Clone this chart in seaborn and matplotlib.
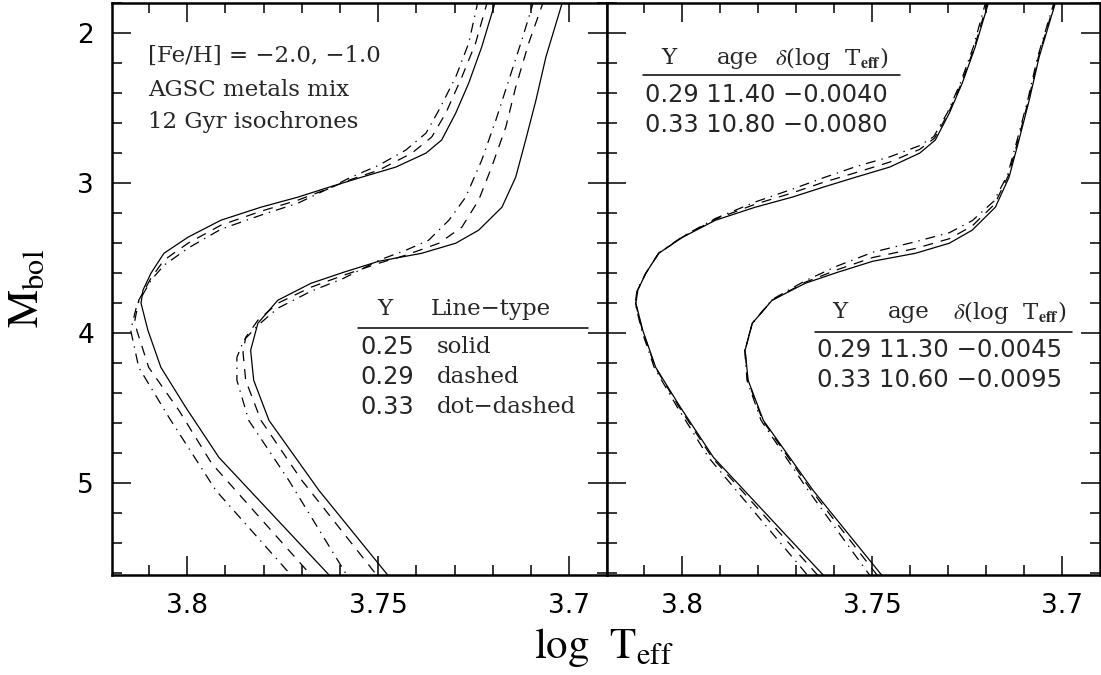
import numpy as np
import pandas as pd
import matplotlib
matplotlib.use("Agg")
import matplotlib.pyplot as plt
from matplotlib.ticker import MultipleLocator
import seaborn as sns

# ---------------------------------------------------------------
# Isochrone tracks (log Teff, M_bol), ordered from the giant branch
# down to the lower main sequence.
# ---------------------------------------------------------------
# [Fe/H] = -2.0, 12 Gyr
m2_y25_teff = [3.7192, 3.7229, 3.7263, 3.7297, 3.7334, 3.7375, 3.7454, 3.7543, 3.7629, 3.7710, 3.7807,
               3.7912, 3.7998, 3.8061, 3.8095, 3.8116, 3.8121, 3.8103, 3.8069, 3.8004, 3.7917, 3.7625]
m2_y25_mbol = [1.78, 2.093, 2.333, 2.533, 2.713, 2.80, 2.893, 2.96, 3.027, 3.093, 3.16,
               3.247, 3.36, 3.467, 3.60, 3.713, 3.80, 3.98, 4.227, 4.493, 4.827, 5.62]
m2_y29_teff = [3.7213, 3.7245, 3.7281, 3.7323, 3.7360, 3.7412, 3.7498, 3.7577, 3.7629, 3.7710, 3.7807,
               3.7912, 3.7998, 3.8061, 3.8095, 3.8127, 3.8137, 3.8132, 3.8101, 3.8022, 3.7936, 3.7673]
m2_y29_mbol = [1.78, 2.067, 2.293, 2.533, 2.693, 2.80, 2.913, 2.98, 3.035, 3.113, 3.187,
               3.28, 3.40, 3.513, 3.633, 3.78, 3.913, 3.98, 4.227, 4.513, 4.867, 5.62]
m2_y33_teff = [3.7238, 3.7263, 3.7297, 3.7341, 3.7375, 3.7428, 3.7498, 3.7577, 3.7629, 3.7710, 3.7807,
               3.7912, 3.7998, 3.8061, 3.8095, 3.8132, 3.8148, 3.8127, 3.8048, 3.7925, 3.7725]
m2_y33_mbol = [1.78, 2.067, 2.293, 2.513, 2.667, 2.78, 2.88, 2.967, 3.035, 3.133, 3.213,
               3.307, 3.433, 3.547, 3.647, 3.813, 3.98, 4.227, 4.56, 5.047, 5.62]

# [Fe/H] = -1.0, 12 Gyr
m1_y25_teff = [3.7016, 3.7061, 3.7087, 3.7114, 3.7140, 3.7176, 3.7237, 3.7297, 3.7386, 3.7498,
               3.7590, 3.7676, 3.7763, 3.7815, 3.7834, 3.7826, 3.7786, 3.7655, 3.7472]
m1_y25_mbol = [1.78, 2.16, 2.447, 2.713, 2.96, 3.16, 3.313, 3.40, 3.467, 3.52,
               3.593, 3.667, 3.78, 3.933, 4.113, 4.313, 4.58, 5.047, 5.62]
m1_y29_teff = [3.7066, 3.7106, 3.7140, 3.7166, 3.7203, 3.7237, 3.7281, 3.7341, 3.7428, 3.7498,
               3.7590, 3.7676, 3.7763, 3.7815, 3.7847, 3.7854, 3.7847, 3.7807, 3.7700, 3.7501]
m1_y29_mbol = [1.78, 2.067, 2.36, 2.627, 2.893, 3.113, 3.293, 3.40, 3.48, 3.533,
               3.613, 3.693, 3.80, 3.913, 4.027, 4.127, 4.313, 4.58, 4.98, 5.62]
m1_y33_teff = [3.7092, 3.7124, 3.7158, 3.7192, 3.7229, 3.7271, 3.7315, 3.7368, 3.7428, 3.7498,
               3.7590, 3.7676, 3.7763, 3.7815, 3.7852, 3.7870, 3.7870, 3.7839, 3.7734, 3.7580]
m1_y33_mbol = [1.78, 2.047, 2.313, 2.58, 2.847, 3.093, 3.247, 3.38, 3.447, 3.513,
               3.633, 3.72, 3.833, 3.947, 4.047, 4.16, 4.313, 4.58, 4.98, 5.62]

# Helium-rich isochrones at matched turnoff luminosity, shifted in log Teff
m2_y29_adj_teff = [3.7195, 3.7231, 3.7265, 3.7299, 3.7336, 3.7375, 3.7454, 3.7543, 3.7629, 3.7710, 3.7807,
                   3.7912, 3.7998, 3.8061, 3.8095, 3.8117, 3.8122, 3.8104, 3.8070, 3.8007, 3.7921, 3.7640]
m2_y29_adj_mbol = [1.78, 2.093, 2.333, 2.53, 2.70, 2.775, 2.86, 2.93, 2.995, 3.065, 3.14,
                   3.24, 3.358, 3.467, 3.60, 3.713, 3.80, 3.98, 4.227, 4.493, 4.827, 5.62]
m2_y33_adj_teff = [3.7200, 3.7234, 3.7268, 3.7302, 3.7338, 3.7375, 3.7454, 3.7543, 3.7629, 3.7710, 3.7807,
                   3.7912, 3.7998, 3.8061, 3.8095, 3.8118, 3.8123, 3.8106, 3.8073, 3.8012, 3.7930, 3.7667]
m2_y33_adj_mbol = [1.78, 2.093, 2.333, 2.53, 2.69, 2.75, 2.825, 2.89, 2.965, 3.04, 3.125,
                   3.235, 3.355, 3.465, 3.60, 3.713, 3.80, 3.98, 4.227, 4.493, 4.827, 5.62]
m1_y29_adj_teff = [3.7018, 3.7063, 3.7089, 3.7116, 3.7142, 3.7178, 3.7237, 3.7297, 3.7386, 3.7498,
                   3.7590, 3.7676, 3.7763, 3.7815, 3.7834, 3.7827, 3.7788, 3.7660, 3.7484]
m1_y29_adj_mbol = [1.78, 2.16, 2.447, 2.71, 2.95, 3.14, 3.285, 3.37, 3.435, 3.495,
                   3.575, 3.66, 3.78, 3.933, 4.113, 4.313, 4.58, 5.047, 5.62]
m1_y33_adj_teff = [3.7020, 3.7065, 3.7091, 3.7118, 3.7144, 3.7180, 3.7237, 3.7297, 3.7386, 3.7498,
                   3.7590, 3.7676, 3.7763, 3.7815, 3.7835, 3.7829, 3.7792, 3.7668, 3.7504]
m1_y33_adj_mbol = [1.78, 2.16, 2.447, 2.705, 2.945, 3.12, 3.25, 3.33, 3.39, 3.46,
                   3.55, 3.65, 3.775, 3.933, 4.113, 4.313, 4.58, 5.047, 5.62]

# Table contents
linetype_y = ["0.25", "0.29", "0.33"]
linetype_names = ["solid", "dashed", "dot\u2212dashed"]
poor_y = ["0.29", "0.33"]
poor_age = ["11.40", "10.80"]
poor_shift = ["\u22120.0040", "\u22120.0080"]
rich_y = ["0.29", "0.33"]
rich_age = ["11.30", "10.60"]
rich_shift = ["\u22120.0045", "\u22120.0095"]

x_ticks = [3.8, 3.75, 3.7]
x_ticklabels = ["3.8", "3.75", "3.7"]
y_ticks = [2, 3, 4, 5]
y_ticklabels = ["2", "3", "4", "5"]

# ---------------------------------------------------------------
tracks = [
    ("left", "m2_y25", "0.25", m2_y25_teff, m2_y25_mbol),
    ("left", "m2_y29", "0.29", m2_y29_teff, m2_y29_mbol),
    ("left", "m2_y33", "0.33", m2_y33_teff, m2_y33_mbol),
    ("left", "m1_y25", "0.25", m1_y25_teff, m1_y25_mbol),
    ("left", "m1_y29", "0.29", m1_y29_teff, m1_y29_mbol),
    ("left", "m1_y33", "0.33", m1_y33_teff, m1_y33_mbol),
    ("right", "m2_y25", "0.25", m2_y25_teff, m2_y25_mbol),
    ("right", "m2_y29", "0.29", m2_y29_adj_teff, m2_y29_adj_mbol),
    ("right", "m2_y33", "0.33", m2_y33_adj_teff, m2_y33_adj_mbol),
    ("right", "m1_y25", "0.25", m1_y25_teff, m1_y25_mbol),
    ("right", "m1_y29", "0.29", m1_y29_adj_teff, m1_y29_adj_mbol),
    ("right", "m1_y33", "0.33", m1_y33_adj_teff, m1_y33_adj_mbol),
]
frames = []
for panel, name, yhe, teff, mbol in tracks:
    frames.append(pd.DataFrame({"panel": panel, "curve": name, "Y": yhe,
                                "teff": teff, "mbol": mbol}))
df = pd.concat(frames, ignore_index=True)

sns.set_theme(style="ticks")
plt.rcParams["font.family"] = ["DejaVu Serif", "DejaVu Sans"]
plt.rcParams["mathtext.fontset"] = "stix"
plt.rcParams["axes.linewidth"] = 1.8
plt.rcParams["axes.edgecolor"] = "black"

W, H = 1101, 675
fig = plt.figure(figsize=(W / 100, H / 100), dpi=100)


def fx(px):
    return px / W


def fy(py):
    return 1 - py / H


ax_l = fig.add_axes([fx(112), fy(575), 495 / W, 572 / H])
ax_r = fig.add_axes([fx(607), fy(575), 493 / W, 572 / H], sharey=ax_l)

dash_map = {"0.25": "", "0.29": (8, 6.4), "0.33": (8, 4.8, 1.1, 4.8)}

for ax, panel in [(ax_l, "left"), (ax_r, "right")]:
    sns.lineplot(data=df[df.panel == panel], x="teff", y="mbol", units="curve",
                 estimator=None, sort=False, style="Y", dashes=dash_map,
                 color="black", linewidth=0.9, legend=False, ax=ax)
    ax.set_xlim(3.8197, 3.6901)
    ax.set_ylim(5.61, 1.8)
    ax.set_xticks(x_ticks)
    ax.set_xticklabels(x_ticklabels)
    ax.set_yticks(y_ticks)
    ax.set_yticklabels(y_ticklabels)
    ax.xaxis.set_minor_locator(MultipleLocator(0.01))
    ax.yaxis.set_minor_locator(MultipleLocator(0.2))
    ax.tick_params(which="both", direction="in", top=True, right=True,
                   colors="black", width=1.1, labelsize=19,
                   labelfontfamily="DejaVu Sans")
    ax.tick_params(which="major", length=14, pad=13)
    ax.tick_params(which="minor", length=7)
    ax.set_xlabel("")
    ax.set_ylabel("")
    for s in ax.spines.values():
        s.set_linewidth(1.8)
        s.set_color("black")

ax_r.tick_params(labelleft=False)

fig.text(fx(604), fy(658), r"$\mathrm{log\ \ T_{eff}}$", ha="center", va="baseline",
         fontsize=31, color="black")
fig.text(fx(38), fy(289), r"$\mathrm{M_{bol}}$", ha="center", va="baseline",
         rotation=90, rotation_mode="anchor", fontsize=31, color="black")

serif = "DejaVu Serif"
sans = "DejaVu Sans"
fs = 16.5
fs_num = 17.3

# Model description
for text, py in [("[Fe/H] = \u22122.0, \u22121.0", 56), ("AGSC metals mix", 90),
                 ("12 Gyr isochrones", 122)]:
    fig.text(fx(148), fy(py), text, ha="left", va="center", fontsize=fs, family=serif)


def rule(x0, x1, py):
    fig.add_artist(plt.Line2D([fx(x0), fx(x1)], [fy(py), fy(py)], color="black",
                              linewidth=1.1, transform=fig.transFigure))


# Line-type key
fig.text(fx(385), fy(309), "Y", ha="center", va="center", fontsize=fs, family=serif)
fig.text(fx(431), fy(309), "Line\u2212type", ha="left", va="center", fontsize=fs, family=serif)
rule(358, 588, 328)
for i, (yv, nm) in enumerate(zip(linetype_y, linetype_names)):
    py = 347 + 30 * i
    fig.text(fx(360), fy(py), yv, ha="left", va="center", fontsize=fs_num, family=sans)
    fig.text(fx(437), fy(py), nm, ha="left", va="center", fontsize=fs, family=serif)


def shift_table(x_y, x_age, x_shift, x_rule0, x_rule1, py_head, py_rule, py_rows,
                yvals, ages, shifts, size):
    fig.text(fx(x_y), fy(py_head), "Y", ha="center", va="center", fontsize=fs, family=serif)
    fig.text(fx(x_age), fy(py_head), "age", ha="left", va="center", fontsize=fs, family=serif)
    fig.text(fx(x_shift), fy(py_head), r"$\delta$(log  T$_{\mathbf{eff}}$)", ha="left",
             va="center", fontsize=fs, family=serif)
    rule(x_rule0, x_rule1, py_rule)
    for yv, ag, sh, py in zip(yvals, ages, shifts, py_rows):
        fig.text(fx(x_rule0 + 2), fy(py), f"{yv} {ag} {sh}", ha="left", va="center",
                 fontsize=size, family=sans)


shift_table(669, 717, 775, 643, 900, 58, 75, [95, 125], poor_y, poor_age, poor_shift, 17.3)
shift_table(840, 888, 953, 815, 1072, 312, 332, [350, 380], rich_y, rich_age, rich_shift, 17.6)

fig.savefig("out.png", dpi=100, facecolor="white")
